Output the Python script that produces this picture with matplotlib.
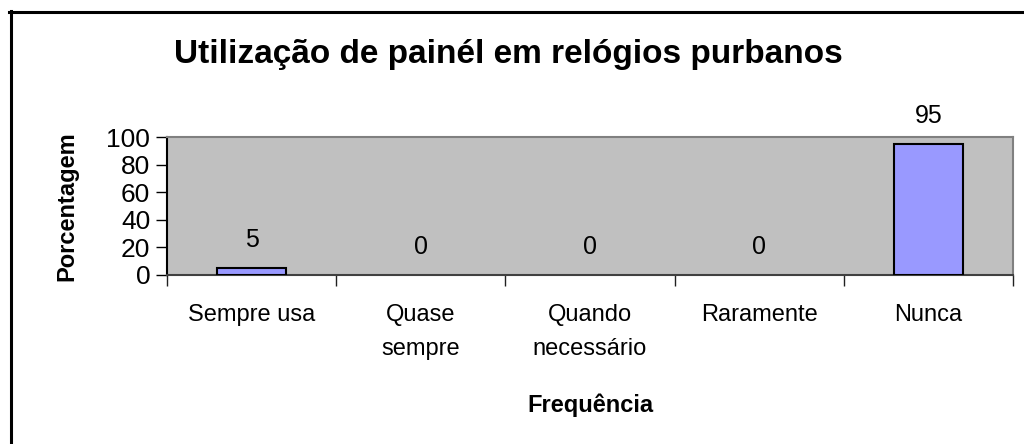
import matplotlib
matplotlib.use("Agg")
import matplotlib.pyplot as plt
from matplotlib.lines import Line2D

categories = ["Sempre usa", "Quase\nsempre", "Quando\nnecessário", "Raramente", "Nunca"]
values = [5, 0, 0, 0, 95]
yticks = [0, 20, 40, 60, 80, 100]

plt.rcParams['font.family'] = ['Liberation Sans', 'DejaVu Sans']

W, H = 1024, 444
fig = plt.figure(figsize=(W / 100, H / 100), dpi=100)
ax = fig.add_axes([167 / W, 1 - 275 / H, (1013 - 167) / W, (275 - 137) / H])
ax.set_facecolor('#C0C0C0')

x = list(range(len(categories)))
edges = ['black' if v > 0 else 'none' for v in values]
ax.bar(x, values, width=0.41, color='#9999FF', edgecolor=edges, linewidth=1.5, zorder=3)
for xi, v in zip(x, values):
    ax.annotate(str(v), (xi, v), xytext=(0, 15), textcoords='offset points',
                ha='center', va='baseline', fontsize=18)

ax.set_xlim(-0.5, len(categories) - 0.5)
ax.set_ylim(0, 100)
ax.set_yticks(yticks)
ax.set_yticklabels([str(t) for t in yticks], fontsize=19)
ax.set_xticks([i - 0.5 for i in range(len(categories) + 1)], minor=False)
ax.set_xticklabels([])
ax.set_xticks(x, minor=True)
ax.set_xticklabels(categories, minor=True, fontsize=17, linespacing=1.7, va='top')
ax.tick_params(axis='x', which='minor', length=0, pad=21)
ax.tick_params(axis='x', which='major', length=8, width=1, direction='out', color='#202020')
ax.tick_params(axis='y', length=8, width=1, direction='out', pad=4)

for s in ['top', 'right']:
    ax.spines[s].set_color('#808080')
    ax.spines[s].set_linewidth(1.5)
ax.spines['left'].set_color('black')
ax.spines['left'].set_linewidth(1.5)
ax.spines['bottom'].set_color('#404040')
ax.spines['bottom'].set_linewidth(1.5)

ax.set_ylabel('Porcentagem', fontsize=17, fontweight='bold', labelpad=20)
ax.set_xlabel('Frequência', fontsize=17, fontweight='bold', labelpad=24)
fig.text(508 / W, 1 - 54 / H, 'Utilização de painél em relógios purbanos',
         ha='center', va='center', fontsize=24, fontweight='bold')

# outer frame
fig.add_artist(Line2D([10.5 / W, 10.5 / W], [0, 1 - 11 / H], transform=fig.transFigure,
                      color='black', linewidth=2.2))
fig.add_artist(Line2D([9 / W, 1.0], [1 - 12.5 / H, 1 - 12.5 / H], transform=fig.transFigure,
                      color='black', linewidth=2.2))

fig.savefig('out.png', dpi=100)
